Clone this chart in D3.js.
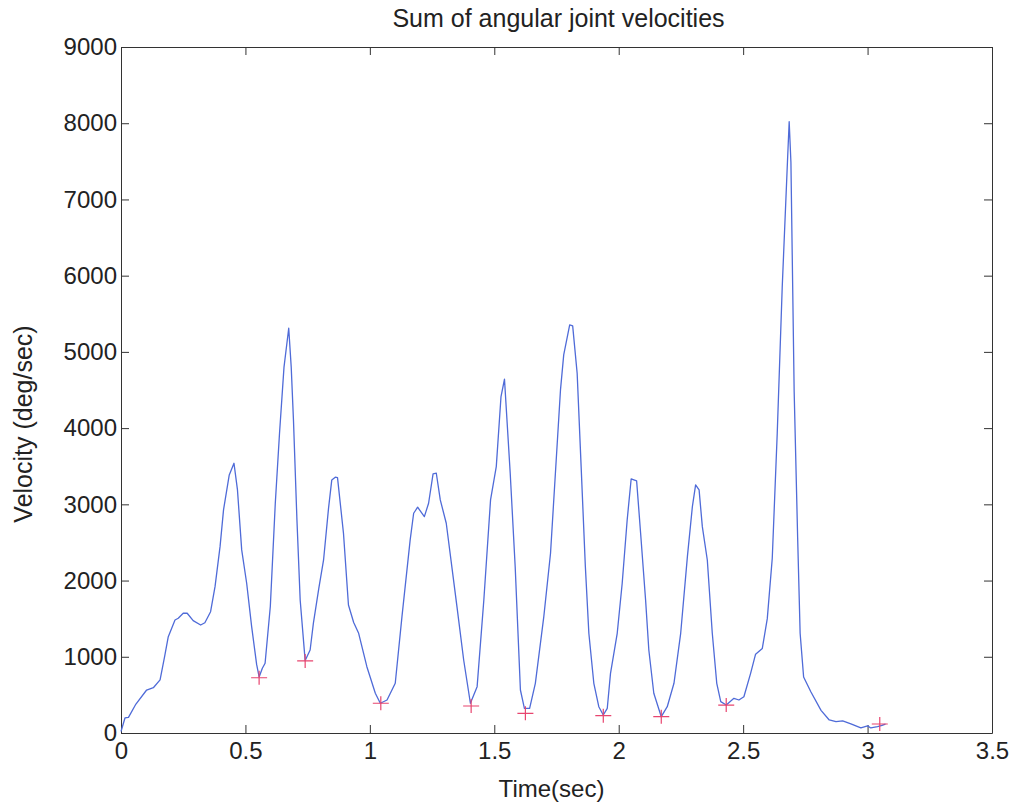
<!DOCTYPE html>
<html>
<head>
<meta charset="utf-8">
<script src="https://cdn.jsdelivr.net/npm/d3@7"></script>
<style>
  html, body { margin: 0; padding: 0; background: #ffffff; }
  svg { display: block; }
  text { font-family: "Liberation Sans", Arial, Helvetica, sans-serif; fill: #222; }
</style>
</head>
<body>
<svg id="chart" width="1014" height="804"></svg>
<script>
// Sampled sum of angular joint velocities over time
const timeSec = [
  0.000, 0.016, 0.030, 0.060, 0.103, 0.130, 0.157, 0.175, 0.190, 0.217,
  0.230, 0.250, 0.266, 0.290, 0.320, 0.337, 0.360, 0.378, 0.398, 0.412,
  0.435, 0.454, 0.468, 0.485, 0.505, 0.525, 0.545, 0.555, 0.568, 0.579,
  0.600, 0.620, 0.637, 0.655, 0.668, 0.674, 0.684, 0.693, 0.707, 0.720,
  0.740, 0.760, 0.773, 0.795, 0.814, 0.834, 0.847, 0.861, 0.870, 0.894,
  0.914, 0.935, 0.955, 0.988, 1.022, 1.042, 1.069, 1.102, 1.129, 1.162,
  1.176, 1.192, 1.219, 1.236, 1.254, 1.267, 1.283, 1.307, 1.350, 1.377,
  1.404, 1.431, 1.458, 1.485, 1.508, 1.527, 1.541, 1.564, 1.584, 1.605,
  1.621, 1.642, 1.665, 1.699, 1.726, 1.766, 1.779, 1.803, 1.815, 1.833,
  1.849, 1.866, 1.880, 1.900, 1.920, 1.938, 1.954, 1.967, 1.994, 2.014,
  2.034, 2.050, 2.072, 2.088, 2.108, 2.121, 2.141, 2.171, 2.195, 2.222,
  2.249, 2.276, 2.296, 2.309, 2.323, 2.336, 2.356, 2.376, 2.394, 2.410,
  2.432, 2.463, 2.483, 2.503, 2.530, 2.550, 2.577, 2.597, 2.617, 2.637,
  2.657, 2.678, 2.685, 2.692, 2.705, 2.719, 2.729, 2.743, 2.772, 2.813,
  2.846, 2.873, 2.900, 2.933, 2.973, 3.000, 3.013, 3.040, 3.058, 3.072
];
const velocity = [
  20, 197, 205, 380, 564, 594, 696, 1000, 1264, 1483,
  1505, 1571, 1571, 1474, 1417, 1447, 1591, 1923, 2445, 2927,
  3386, 3539, 3189, 2402, 1965, 1395, 900, 735, 850, 915,
  1659, 3014, 3933, 4800, 5150, 5310, 4800, 4108, 2795, 1745,
  950, 1089, 1439, 1900, 2270, 2950, 3320, 3356, 3350, 2621,
  1680, 1450, 1308, 870, 521, 390, 433, 652, 1526, 2533,
  2883, 2962, 2839, 3014, 3399, 3408, 3058, 2752, 1658, 958,
  390, 608, 1745, 3058, 3495, 4414, 4641, 3408, 2182, 564,
  324, 324, 652, 1526, 2358, 4501, 4961, 5354, 5341, 4720,
  3495, 2182, 1308, 652, 345, 236, 324, 783, 1308, 1965,
  2795, 3333, 3307, 2621, 1745, 1089, 521, 214, 345, 652,
  1308, 2314, 2970, 3255, 3189, 2707, 2270, 1308, 652, 411,
  367, 455, 433, 476, 783, 1034, 1110, 1500, 2292, 3933,
  5846, 7487, 8020, 7487, 4479, 2566, 1308, 735, 542, 297,
  171, 149, 160, 121, 66, 94, 66, 85, 100, 115
];

// Detected local minima (marked with +)
const minimaTime = [0.555, 0.740, 1.044, 1.407, 1.625, 1.938, 2.171, 2.432, 3.049];
const minimaVel  = [725, 945, 390, 354, 258, 227, 214, 367, 118];

// Axis tick values
const xTicks = [0, 0.5, 1, 1.5, 2, 2.5, 3, 3.5];
const yTicks = [0, 1000, 2000, 3000, 4000, 5000, 6000, 7000, 8000, 9000];

const svg = d3.select("#chart");
const plotLeft = 121, plotRight = 992, plotTop = 47, plotBottom = 733;

const x = d3.scaleLinear().domain([0, 3.5]).range([plotLeft, plotRight]);
const y = d3.scaleLinear().domain([0, 9000]).range([plotBottom, plotTop]);

const fmtX = d => (d === 0 ? "0" : String(d));

// Bottom axis with labels
svg.append("g")
  .attr("transform", `translate(0,${plotBottom})`)
  .call(d3.axisBottom(x).tickValues(xTicks).tickFormat(fmtX).tickSize(-8).tickSizeOuter(0).tickPadding(9))
  .call(g => g.selectAll("text").attr("font-size", 24).style("fill", "#222"));

// Left axis with labels
svg.append("g")
  .attr("transform", `translate(${plotLeft},0)`)
  .call(d3.axisLeft(y).tickValues(yTicks).tickFormat(d3.format("d")).tickSize(-8).tickSizeOuter(0).tickPadding(4))
  .call(g => g.selectAll("text").attr("font-size", 24).style("fill", "#222"));

// Top and right box edges with inward ticks
svg.append("g")
  .attr("transform", `translate(0,${plotTop})`)
  .call(d3.axisTop(x).tickValues(xTicks).tickFormat("").tickSize(-8).tickSizeOuter(0));
svg.append("g")
  .attr("transform", `translate(${plotRight},0)`)
  .call(d3.axisRight(y).tickValues(yTicks).tickFormat("").tickSize(-8).tickSizeOuter(0));

svg.selectAll(".domain, .tick line").attr("stroke", "#333").attr("stroke-width", 1);

// Velocity trace
const pts = timeSec.map((t, i) => [t, velocity[i]]);
svg.append("path")
  .datum(pts)
  .attr("fill", "none")
  .attr("stroke", "#4f6bd8")
  .attr("stroke-width", 1.3)
  .attr("stroke-linejoin", "round")
  .attr("d", d3.line().x(d => x(d[0])).y(d => y(d[1])));

// Minima markers
const mins = minimaTime.map((t, i) => [t, minimaVel[i]]);
svg.append("g").selectAll("path")
  .data(mins)
  .join("path")
  .attr("transform", d => `translate(${x(d[0])},${y(d[1])})`)
  .attr("d", "M-8,0H8M0,-7V7")
  .attr("stroke", "#e8456f")
  .attr("stroke-width", 1.2)
  .attr("fill", "none");

// Title and axis labels
svg.append("text")
  .attr("x", (plotLeft + plotRight) / 2 + 2).attr("y", 27)
  .attr("text-anchor", "middle").attr("font-size", 25)
  .text("Sum of angular joint velocities");

svg.append("text")
  .attr("x", (plotLeft + plotRight) / 2 - 5).attr("y", 797)
  .attr("text-anchor", "middle").attr("font-size", 24)
  .text("Time(sec)");

svg.append("text")
  .attr("transform", `translate(32,${(plotTop + plotBottom) / 2 + 34}) rotate(-90)`)
  .attr("text-anchor", "middle").attr("font-size", 25)
  .text("Velocity (deg/sec)");
</script>
</body>
</html>
